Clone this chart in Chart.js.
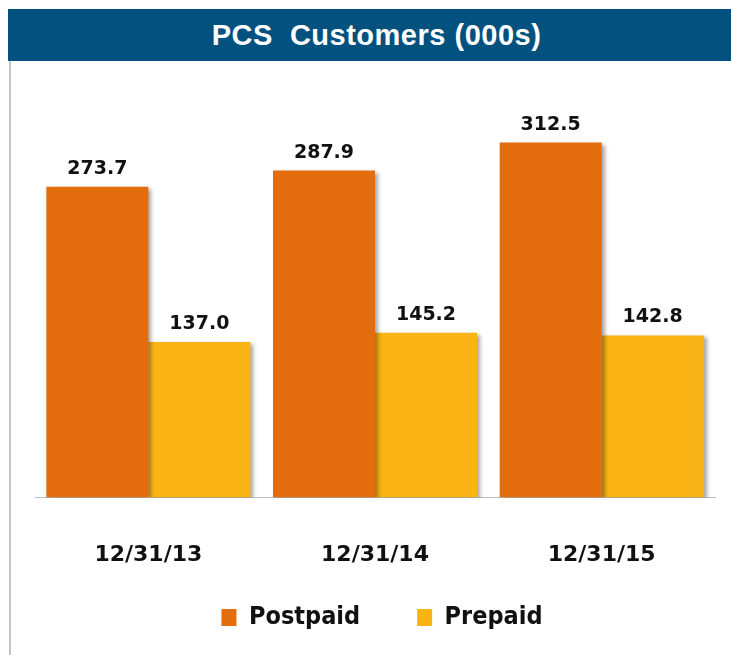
<!DOCTYPE html>
<html>
<head>
<meta charset="utf-8">
<script src="https://cdn.jsdelivr.net/npm/chart.js@4.4.0/dist/chart.umd.min.js"></script>
<style>
  html, body { margin: 0; padding: 0; background: #ffffff; }
  #wrap { position: relative; width: 731px; height: 655px; overflow: hidden; }
  #titlebar {
    position: absolute; left: 8px; top: 9px; width: 709px; height: 52px;
    padding-left: 14px;
    background: #03517f; color: #ffffff;
    font-family: "Liberation Sans", Arial, sans-serif;
    font-weight: bold; font-size: 29px; letter-spacing: 0.5px;
    line-height: 52px; text-align: center;
    z-index: 2;
  }
  #leftline {
    position: absolute; left: 9px; top: 61px; width: 2px; height: 594px;
    background: #c4c4c4; z-index: 2;
  }
  #chart { position: absolute; left: 0; top: 0; z-index: 1; }
</style>
</head>
<body>
<div id="wrap">
  <div id="titlebar">PCS&nbsp; Customers (000s)</div>
  <div id="leftline"></div>
  <canvas id="chart" width="731" height="655"></canvas>
</div>
<script>
const categories = ["12/31/13", "12/31/14", "12/31/15"];
const postpaid = [273.7, 287.9, 312.5];
const prepaid = [137.0, 145.2, 142.8];
const seriesNames = ["Postpaid", "Prepaid"];
const seriesColors = ["#e36c0c", "#fbb416"];

const shadowPlugin = {
  id: "barShadow",
  beforeDatasetsDraw(chart) {
    const ctx = chart.ctx;
    ctx.save();
    ctx.shadowColor = "rgba(0,0,0,0.35)";
    ctx.shadowBlur = 4;
    ctx.shadowOffsetX = 3;
    ctx.shadowOffsetY = 2;
  },
  afterDatasetsDraw(chart) {
    chart.ctx.restore();
  }
};

const valueLabels = {
  id: "valueLabels",
  afterDatasetsDraw(chart) {
    const ctx = chart.ctx;
    ctx.save();
    ctx.shadowColor = "transparent";
    ctx.font = "bold 19px 'DejaVu Sans', Verdana, sans-serif";
    ctx.fillStyle = "#111111";
    ctx.textAlign = "center";
    ctx.textBaseline = "alphabetic";
    chart.data.datasets.forEach((ds, i) => {
      const meta = chart.getDatasetMeta(i);
      meta.data.forEach((el, j) => {
        ctx.fillText(ds.data[j].toFixed(1), el.x, el.y - 13);
      });
    });
    ctx.restore();
  }
};

// nudge the legend block (style offset only)
const legendNudge = {
  id: "legendNudge",
  afterLayout(chart) {
    const l = chart.legend;
    if (!l) return;
    l.left += 7; l.right += 7;
    l.top -= 20; l.bottom -= 20;
  }
};

new Chart(document.getElementById("chart"), {
  type: "bar",
  data: {
    labels: categories,
    datasets: [
      { label: seriesNames[0], data: postpaid, backgroundColor: seriesColors[0] },
      { label: seriesNames[1], data: prepaid, backgroundColor: seriesColors[1] }
    ]
  },
  options: {
    responsive: false,
    animation: false,
    devicePixelRatio: 1,
    layout: { padding: { left: 35, right: 16, top: 100, bottom: -5 } },
    datasets: { bar: { categoryPercentage: 0.9, barPercentage: 1.0 } },
    scales: {
      x: {
        grid: { display: false, tickLength: 44 },
        border: { display: true, color: "#bdbdbd", width: 1 },
        ticks: {
          color: "#111111",
          padding: 0,
          font: { family: "'DejaVu Sans', Verdana, sans-serif", weight: "bold", size: 22 }
        }
      },
      y: { display: false, min: 0, max: 350 }
    },
    plugins: {
      legend: {
        position: "bottom",
        labels: {
          color: "#111111",
          boxWidth: 15,
          boxHeight: 17,
          padding: 57,
          font: { family: "'DejaVu Sans Condensed', 'DejaVu Sans', sans-serif", weight: "bold", size: 25, lineHeight: 0.8 }
        }
      },
      title: { display: false },
      tooltip: { enabled: false }
    }
  },
  plugins: [shadowPlugin, valueLabels, legendNudge]
});
</script>
</body>
</html>
